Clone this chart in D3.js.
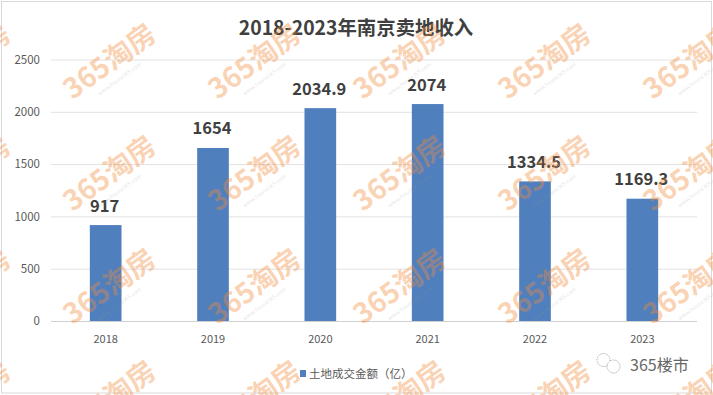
<!DOCTYPE html>
<html><head><meta charset="utf-8">
<script src="https://cdn.jsdelivr.net/npm/d3@7/dist/d3.min.js"></script>
<style>html,body{margin:0;padding:0;background:#fff}svg{display:block}text{font-family:"Noto Sans CJK SC","Noto Sans",sans-serif}</style>
</head><body><svg id="c" width="713" height="395"></svg>
<script>
const categories=["2018","2019","2020","2021","2022","2023"];
const values=[917,1654,2034.9,2074,1334.5,1169.3];
const valueLabels=["917","1654","2034.9","2074","1334.5","1169.3"];
const yTicks=[0,500,1000,1500,2000,2500];
const titleText="2018-2023年南京卖地收入";
const legendText="土地成交金额（亿）";
const wmCols=[-35,110,255,400,545,690];
const wmRows=[62,174,287,399];

const svg=d3.select("#c");
svg.append("rect").attr("x",1.5).attr("y",1.5).attr("width",710).attr("height",391.5).attr("fill","#fff").attr("stroke","#d9d9d9");
const x=d3.scaleBand().domain(categories).range([52,696]).paddingInner(0.705).paddingOuter(0.3525);
const y=d3.scaleLinear().domain([0,2500]).range([321,59.5]);
const yAxis=svg.append("g").attr("transform","translate(51,0)").call(d3.axisLeft(y).tickValues(yTicks).tickSize(-646).tickPadding(11).tickFormat(d3.format("d")));
yAxis.select(".domain").remove();
yAxis.selectAll("line").attr("stroke","#e2e2e2");
yAxis.selectAll("text").attr("font-size",11.5).attr("fill","#595959").attr("dy","0.32em");
const xAxis=svg.append("g").attr("transform","translate(0,321)").call(d3.axisBottom(x).tickSize(0).tickPadding(14));
xAxis.select(".domain").attr("stroke","#d0d0d0").attr("d","M51,0.5H697");
xAxis.selectAll("text").attr("font-size",11).attr("fill","#595959");
svg.append("g").selectAll("rect").data(values).join("rect")
 .attr("x",(d,i)=>x(categories[i])).attr("width",x.bandwidth())
 .attr("y",d=>y(d)).attr("height",d=>y(0)-y(d)).attr("fill","#4f7fbc");
svg.append("g").selectAll("text").data(values).join("text")
 .attr("x",(d,i)=>x(categories[i])+x.bandwidth()/2-1).attr("y",d=>y(d)-13.5).attr("text-anchor","middle")
 .attr("font-size",16.5).attr("font-weight",700).attr("fill","#404040").text((d,i)=>valueLabels[i]);
svg.append("text").attr("x",356).attr("y",35).attr("text-anchor","middle").attr("font-size",19.4).attr("font-weight",700).attr("fill","#404040").text(titleText);
svg.append("rect").attr("x",300).attr("y",370).attr("width",6).attr("height",7).attr("fill","#4f7fbc");
svg.append("text").attr("x",309).attr("y",378).attr("font-size",11.5).attr("fill","#595959").text(legendText);
// brand mark
const b=svg.append("g").attr("fill","#fff").attr("stroke","#888").attr("stroke-width",0.7).attr("stroke-dasharray","1.2 1");
b.append("ellipse").attr("cx",603.5).attr("cy",360).attr("rx",6.5).attr("ry",6.5);
b.append("ellipse").attr("cx",613.5).attr("cy",366.5).attr("rx",6.5).attr("ry",6.5);
svg.append("text").attr("x",630).attr("y",370.5).attr("font-size",16).attr("fill","#666").text("365楼市");
// watermarks are laid over everything
const wm=svg.append("g");
wmRows.forEach(r=>wmCols.forEach(c=>{
 const g=wm.append("g").attr("transform",`translate(${c},${r}) rotate(-36)`);
 g.append("text").attr("text-anchor","middle").attr("y",9).attr("font-size",28).attr("font-weight",700).attr("fill","#f28c3c").attr("fill-opacity",0.4).text("365淘房");
 g.append("text").attr("text-anchor","middle").attr("x",-2).attr("y",21).attr("font-size",5.5).attr("fill","#999").attr("fill-opacity",0.3).text("www.house365.com");
}));
</script></body></html>
